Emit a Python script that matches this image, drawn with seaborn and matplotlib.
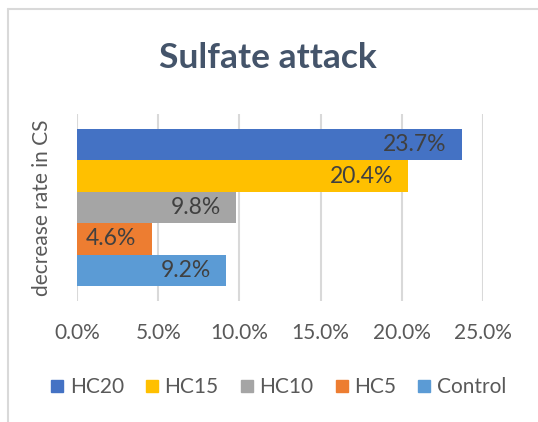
import matplotlib
matplotlib.use("Agg")
import matplotlib.pyplot as plt
import seaborn as sns
import pandas as pd
from matplotlib.lines import Line2D
from matplotlib.ticker import FuncFormatter

# Data
category = ["decrease rate in CS"]
series = ["HC20", "HC15", "HC10", "HC5", "Control"]
values = [0.237, 0.204, 0.098, 0.046, 0.092]
colors = ["#4472c4", "#ffc000", "#a5a5a5", "#ed7d31", "#5b9bd5"]
xticks = [0.0, 0.05, 0.10, 0.15, 0.20, 0.25]

df = pd.DataFrame({"cat": category * len(series), "series": series, "value": values})

sns.set_style("white")
plt.rcParams["font.family"] = ["Lato", "DejaVu Sans"]

fig = plt.figure(figsize=(5.38, 4.22), dpi=100)
ax = fig.add_axes([77/538, 1 - 301/422, 406/538, 187/422])

sns.barplot(data=df, y="cat", x="value", hue="series", hue_order=series,
            palette=colors, orient="h", width=0.84, ax=ax, legend=False,
            saturation=1, linewidth=0)

ax.set_xlim(0, 0.25)
ax.set_ylim(0.5, -0.5)
ax.set_xticks(xticks)
ax.xaxis.set_major_formatter(FuncFormatter(lambda v, p: f"{v*100:.1f}%"))
ax.tick_params(axis="x", length=0, labelsize=15, labelcolor="#595959", pad=16)
ax.set_yticks([])
ax.set_xlabel("")
ax.set_ylabel("decrease rate in CS", fontsize=15, color="#595959")
ax.yaxis.set_label_coords(-0.062, 0.5)
ax.grid(axis="x", color="#d9d9d9", linewidth=1.5)
ax.set_axisbelow(True)
for s in ax.spines.values():
    s.set_visible(False)

for cont in ax.containers:
    anns = ax.bar_label(cont, labels=[f"{v*100:.1f}%" for v in cont.datavalues],
                        label_type="edge", padding=-11, fontsize=16.5, color="#404040")
    for a in anns:
        a.set_ha("right")

fig.text(268/538, 1 - 58/422, "Sulfate attack", ha="center", va="center",
         fontsize=25.5, fontweight="bold", color="#44546a")

handles = [Line2D([0], [0], marker="s", linestyle="", markersize=8,
                  markerfacecolor=c, markeredgecolor=c) for c in colors]
fig.legend(handles, series, loc="center", bbox_to_anchor=(278/538, 1 - 387/422), ncol=5,
           frameon=False, fontsize=15, handlelength=0.7, handletextpad=0.25,
           columnspacing=1.0, labelcolor="#595959")

# chart frame
fig.add_artist(Line2D([8/538, 8/538], [0, 1 - 9/422], transform=fig.transFigure,
                      color="#d9d9d9", linewidth=1.5))
fig.add_artist(Line2D([8/538, 1], [1 - 9/422, 1 - 9/422], transform=fig.transFigure,
                      color="#d9d9d9", linewidth=1.5))

fig.savefig("out.png", dpi=100, facecolor="white")
